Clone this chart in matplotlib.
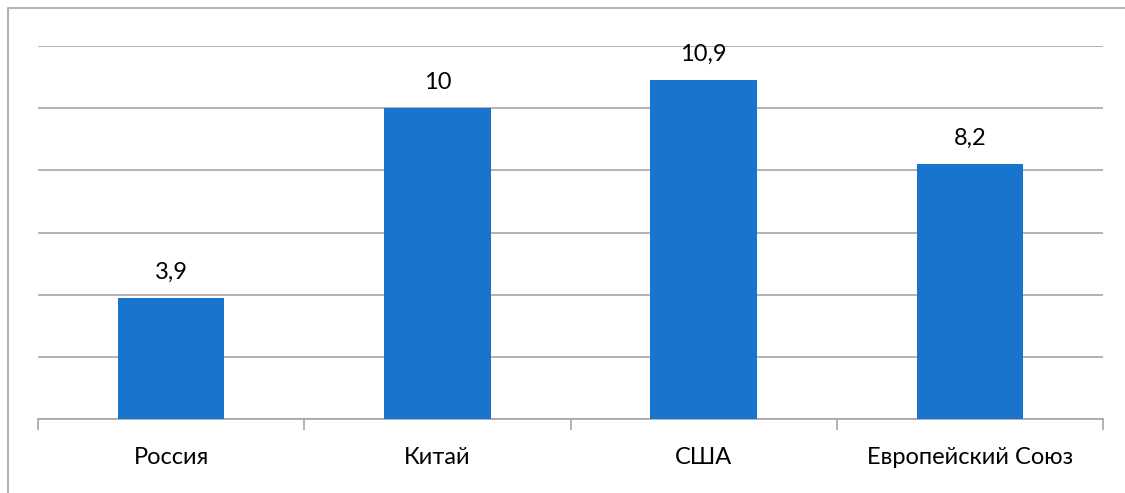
import matplotlib.pyplot as plt
from matplotlib.lines import Line2D
import numpy as np

categories = ["Россия", "Китай", "США", "Европейский Союз"]
values = [3.9, 10.0, 10.9, 8.2]
value_labels = ["3,9", "10", "10,9", "8,2"]

W, H = 1125, 493
fig = plt.figure(figsize=(W / 100, H / 100), dpi=100)
plt.rcParams['font.family'] = ['Lato', 'DejaVu Sans']

# outer frame: only its top and left edges are in the picture
fx, fy = 7.5 / W, (H - 7.5) / H
fig.lines.append(Line2D([fx, fx, 1.0], [0.0, fy, fy], transform=fig.transFigure,
                        color="#b3b3b3", linewidth=1.5))

ax = fig.add_axes([38 / W, (H - 419) / H, (1103 - 38) / W, (419 - 46) / H])
x = np.arange(len(categories))
ax.bar(x, values, width=0.4, color="#1874cd", zorder=3)

ax.set_xlim(-0.5, len(categories) - 0.5)
ax.set_ylim(0, 12)
ax.set_yticks(np.arange(0, 13, 2))
ax.yaxis.grid(True, color="#a6a6a6", linewidth=1.2, zorder=0)
ax.tick_params(axis="y", length=0, labelleft=False)

ax.set_xticks(x)
ax.set_xticklabels(categories, fontsize=17)
ax.set_xticks(np.arange(-0.5, len(categories), 1), minor=True)
ax.tick_params(axis="x", which="major", length=0, pad=20)
ax.tick_params(axis="x", which="minor", length=8, width=1.2, color="#a6a6a6")

for s in ["top", "right", "left"]:
    ax.spines[s].set_visible(False)
ax.spines["bottom"].set_color("#a6a6a6")
ax.spines["bottom"].set_linewidth(1.2)

for xi, v, lab in zip(x, values, value_labels):
    ax.annotate(lab, (xi, v), xytext=(0, 11), textcoords="offset points",
                ha="center", va="bottom", fontsize=17)

fig.savefig("out.png", dpi=100)
